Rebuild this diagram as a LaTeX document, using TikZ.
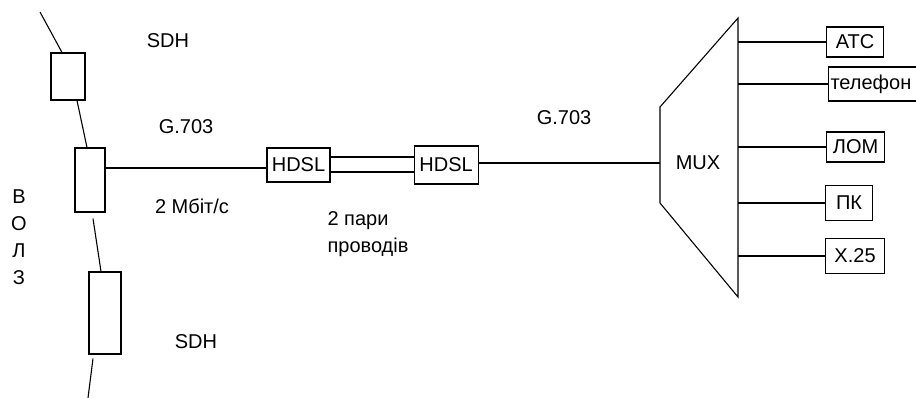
\documentclass[tikz,border=0pt]{standalone}
\usepackage{fontspec}
\setmainfont{Liberation Sans}
\usetikzlibrary{positioning}

\begin{document}
\begin{tikzpicture}[
        x=1pt, y=-1pt,
        line width=1.1pt,
        every node/.style = {font=\fontsize{20}{27}\selectfont, inner sep=0pt},
        blok/.style = {rectangle, draw=black, line width=1.1pt},
        outbox/.style = {blok, minimum height=31pt, inner xsep=3pt, anchor=west}
    ]
    \useasboundingbox (0,0) rectangle (916,398);

    % --- ВОЛЗ: вузли SDH ---
    \node[blok, minimum width=34pt, minimum height=47pt] (sdhA) at (68,76.5) {};
    \node[blok, minimum width=30pt, minimum height=64pt] (sdhB) at (90,180) {};
    \node[blok, minimum width=32pt, minimum height=82pt] (sdhC) at (105,313) {};
    \coordinate (fibTop) at (40,12);
    \coordinate (fibBot) at (88,398);

    \draw (fibTop) -- ([xshift=-6pt]sdhA.north);
    \draw ([xshift=9pt]sdhA.south) -- ([xshift=-3pt]sdhB.north);
    \draw ([xshift=3pt,yshift=-6pt]sdhB.south) -- ([xshift=-4pt]sdhC.north);
    \draw ([xshift=-12pt,yshift=-4pt]sdhC.south) -- (fibBot);

    \node[align=center] (volz) at (19,237) {В\\О\\Л\\З};
    \node (sdhTop) at (168,41) {SDH};
    \node (sdhBot) at (196,342) {SDH};
    \node (gLeft) at (186,127) {G.703};
    \node (rate) at (192,206) {2 Мбіт/с};

    % --- лінія HDSL ---
    \node[blok, minimum width=63pt, minimum height=34pt] (hdslA) at (298.5,165) {HDSL};
    \node[blok, minimum width=64pt, minimum height=38pt, right=83pt of hdslA] (hdslB) {HDSL};

    \draw ([yshift=12pt]sdhB.east) -- ([yshift=12pt]sdhB.east -| hdslA.west);
    \draw ([yshift=8pt]hdslA.east) -- ([yshift=8pt]hdslA.east -| hdslB.west);
    \draw ([yshift=-7pt]hdslA.east) -- ([yshift=-7pt]hdslA.east -| hdslB.west);

    \node[align=left, anchor=north west] (pairs) at (327,211) {2 пари\\проводів};
    \node (gRight) at (564,118) {G.703};

    % --- мультиплексор ---
    \coordinate (muxA) at (660,107);
    \coordinate (muxB) at (738,18);
    \coordinate (muxC) at (738,297);
    \coordinate (muxD) at (660,203);
    \draw (muxA) -- (muxB) -- (muxC) -- (muxD) -- cycle;
    \node (mux) at (698,163) {MUX};

    \draw ([yshift=2pt]hdslB.east) -- ([yshift=2pt]hdslB.east -| muxA);

    % --- абоненти ---
    \node[outbox, minimum height=30pt, minimum width=57pt] (atc) at (826,42) {АТС};
    \node[outbox, minimum height=34pt, text width=88pt, align=left, inner xsep=2pt] (tel) at (828,84) {телефон};
    \node[outbox, minimum height=30pt, minimum width=58pt] (lom) at (826,147) {ЛОМ};
    \node[outbox, minimum height=35pt, minimum width=47pt] (pk) at (825,203) {ПК};
    \node[outbox, minimum height=35pt, minimum width=59pt] (xx) at (825,256) {X.25};

    \foreach \n in {atc,tel,lom,pk,xx}
        \draw (\n.west -| muxB) -- (\n.west);

\end{tikzpicture}
\end{document}
